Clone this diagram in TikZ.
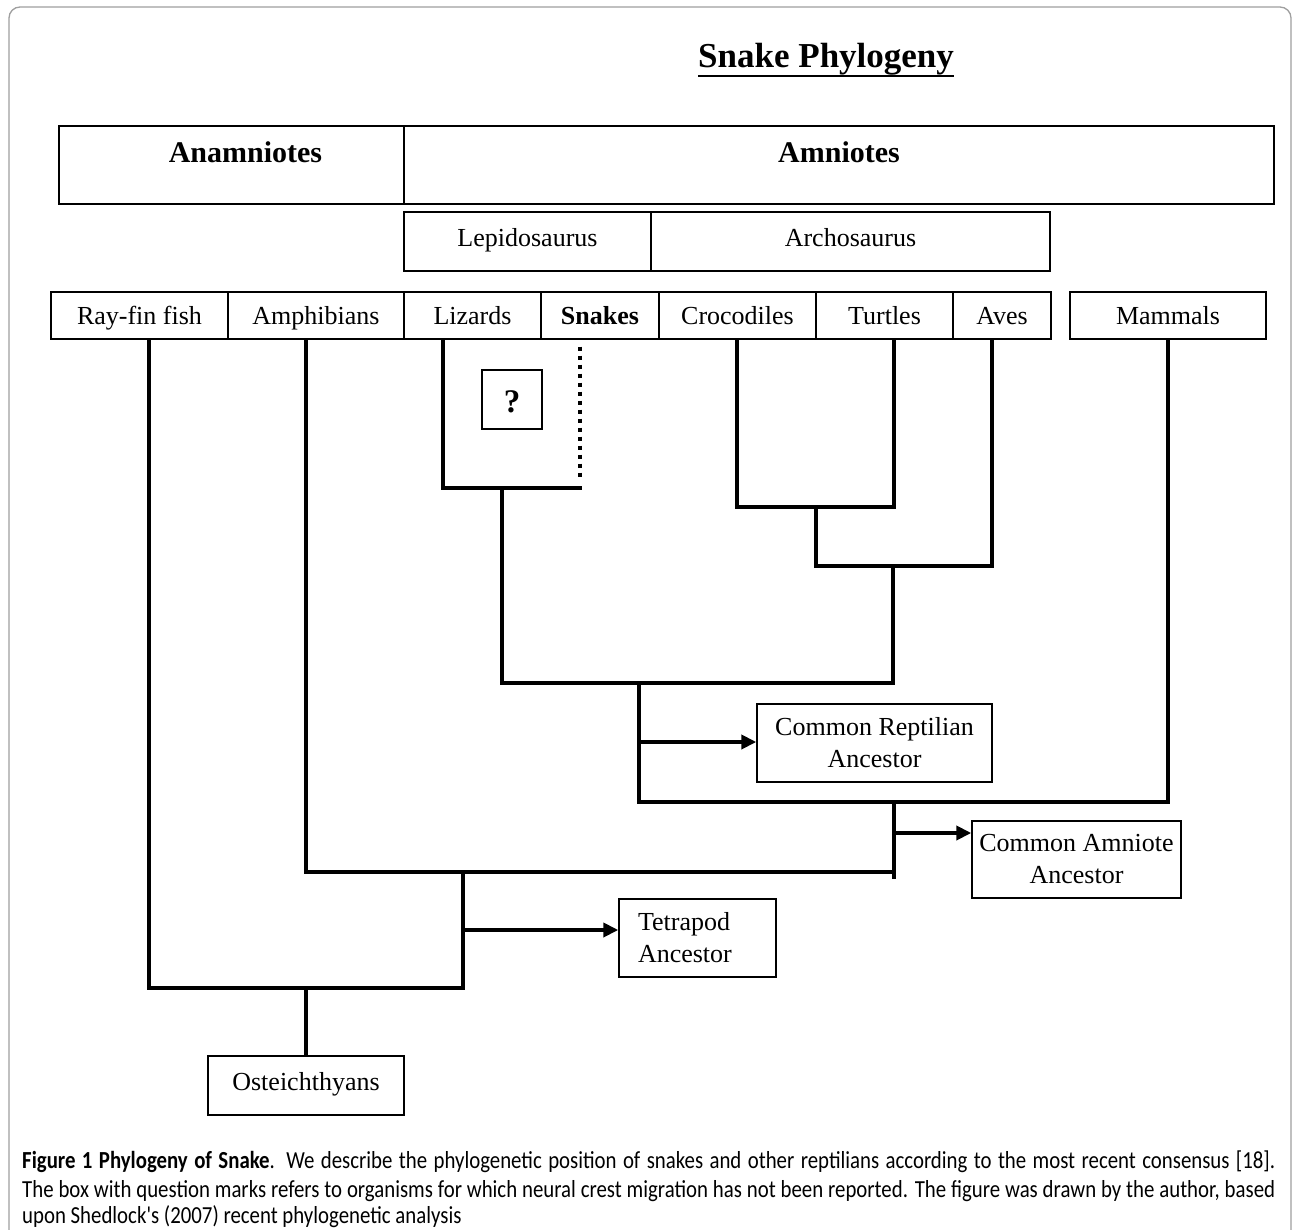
\documentclass[tikz,border=0pt]{standalone}
\usepackage{fontspec}
\setmainfont{Liberation Serif}
\newfontfamily\capfont[FakeStretch=0.85]{Carlito}
\usetikzlibrary{arrows.meta}
\begin{document}
\begin{tikzpicture}[x=1pt,y=-1pt,
  br/.style={line width=4.5pt},
  dotbr/.style={line width=4.5pt, dash pattern=on 4.5pt off 4.5pt},
  arr/.style={line width=4.5pt, -{Triangle[length=15pt,width=14pt]}},
  bx/.style n args={3}{draw, line width=1.4pt, fill=white, inner sep=0pt,
     minimum width=#1, text height=#2, text depth=#3, anchor=base,
     font=\fontsize{26}{32}\selectfont},
  bbx/.style={font=\fontsize{30}{36}\selectfont\bfseries},
  mbx/.style={draw, line width=1.4pt, fill=white, inner sep=0pt, align=center,
     font=\fontsize{26}{32}\selectfont},
  captext/.style={anchor=base west, inner sep=0pt, font=\fontsize{24.5}{30}\capfont}
]
\useasboundingbox (0,0) rectangle (1292,1230);
\fill[white] (0,0) rectangle (1292,1230);
\begin{scope}
\clip (0,0) rectangle (1292,1230);
\draw[draw=gray!75, line width=1.3pt, rounded corners=11pt] (9,7) rectangle (1291,1262);
\end{scope}

% title
\node[anchor=base west, inner sep=0pt, font=\fontsize{35}{42}\selectfont\bfseries] (title) at (698,68) {Snake Phylogeny};
\draw[line width=2.5pt] ([yshift=-8pt]title.base west) -- ([yshift=-8pt]title.base east);

% group boxes
\node[bx={345pt}{37pt}{41pt}, bbx] (ana) at (231.5,163) {\hspace{28pt}Anamniotes};
\node[bx={870pt}{37pt}{41pt}, bbx] (amn0) at (839,163) {Amniotes};
\node[bx={247pt}{35pt}{24pt}] (lep) at (527.5,247) {Lepidosaurus};
\node[bx={399pt}{35pt}{24pt}] (arc) at (850.5,247) {Archosaurus\hspace{10pt}};

% leaf boxes
\node[bx={177pt}{33pt}{14pt}] (rf) at (139.5,325) {Ray-fin fish\hspace{17pt}};
\node[bx={176pt}{33pt}{14pt}] (am) at (316,325) {Amphibians\hspace{14pt}};
\node[bx={137pt}{33pt}{14pt}] (li) at (472.5,325) {Lizards};
\node[bx={118pt}{33pt}{14pt}] (sn) at (600,325) {\textbf{Snakes}};
\node[bx={157pt}{33pt}{14pt}] (cr) at (737.5,325) {Crocodiles};
\node[bx={137pt}{33pt}{14pt}] (tu) at (884.5,325) {Turtles\hspace{20pt}};
\node[bx={98pt}{33pt}{14pt}] (av) at (1002,325) {Aves};
\node[bx={196pt}{33pt}{14pt}] (ma) at (1168,325) {Mammals};

\node[bx={60pt}{42pt}{17pt}, font=\fontsize{33}{36}\selectfont\bfseries] (q) at (512,412) {?};

% ancestor boxes
\node[mbx, minimum width=235pt, minimum height=78pt] (rep) at (874.5,743) {Common Reptilian\\Ancestor};
\node[mbx, minimum width=209pt, minimum height=77pt] (amn) at (1076.5,859.5) {Common Amniote\\Ancestor};
\node[draw, line width=1.4pt, fill=white, inner xsep=19pt, inner ysep=0pt, text width=119pt,
  minimum height=78pt, align=left, font=\fontsize{26}{32}\selectfont] (tet) at (697.5,938) {Tetrapod\\Ancestor};
\node[bx={196pt}{34pt}{25pt}] (ost) at (306,1090) {Osteichthyans\hspace{15pt}};

% junction coordinates
\coordinate (cLiz) at (443,488);
\coordinate (cSnk) at (582,488);
\coordinate (dSnk) at (580,480);
\coordinate (jLS) at (502,488);
\coordinate (cCro) at (737,507);
\coordinate (cTur) at (894,507);
\coordinate (jCT) at (816,507);
\coordinate (cCT) at (816,566);
\coordinate (cAve) at (992,566);
\coordinate (jArc) at (893,566);
\coordinate (cArc) at (893,683);
\coordinate (cLS) at (502,683);
\coordinate (jRep) at (639,683);
\coordinate (cRep) at (639,802);
\coordinate (cMam) at (1168,802);
\coordinate (jAmn) at (894,802);
\coordinate (eAmn) at (894,879);
\coordinate (aRep) at (639,742);
\coordinate (aAmn) at (894,833);
\coordinate (cAmp) at (306,872);
\coordinate (cAmT) at (894,872);
\coordinate (jTet) at (463,872);
\coordinate (cTet) at (463,988);
\coordinate (aTet) at (463,930);
\coordinate (cRay) at (149,988);
\coordinate (jOst) at (306,988);

% branches
\draw[br] (li.south -| cLiz) -- (cLiz) -- (cSnk);
\draw[dotbr, shorten <=7pt] (sn.south -| dSnk) -- (dSnk);
\draw[br] (jLS) -- (cLS) -- (cArc) -- (jArc);
\draw[br] (cr.south -| cCro) -- (cCro) -- (cTur) -- (tu.south -| cTur);
\draw[br] (jCT) -- (cCT) -- (cAve) -- (av.south -| cAve);
\draw[br] (ma.south) -- (cMam) -- (cRep) -- (jRep);
\draw[br] (jAmn) -- (eAmn);
\draw[br] (am.south -| cAmp) -- (cAmp) -- (cAmT);
\draw[br] (rf.south -| cRay) -- (cRay) -- (cTet) -- (jTet);
\draw[br] (jOst) -- (ost.north);
\draw[arr] (aRep) -- (aRep -| rep.west);
\draw[arr] (aAmn) -- (aAmn -| amn.west);
\draw[arr] (aTet) -- (aTet -| tet.west);

% caption
\node[captext] (cap1) at (22,1168)
 {\hbox to 1253pt{\textbf{Figure 1 Phylogeny of Snake}. We describe the phylogenetic position of snakes and other reptilians according to the most recent consensus [18].}};
\node[captext] (cap2) at (22,1197)
 {\hbox to 1253pt{The box with question marks refers to organisms for which neural crest migration has not been reported. The figure was drawn by the author, based}};
\node[captext] (cap3) at (22,1223)
 {upon Shedlock's (2007) recent phylogenetic analysis};
\end{tikzpicture}
\end{document}
